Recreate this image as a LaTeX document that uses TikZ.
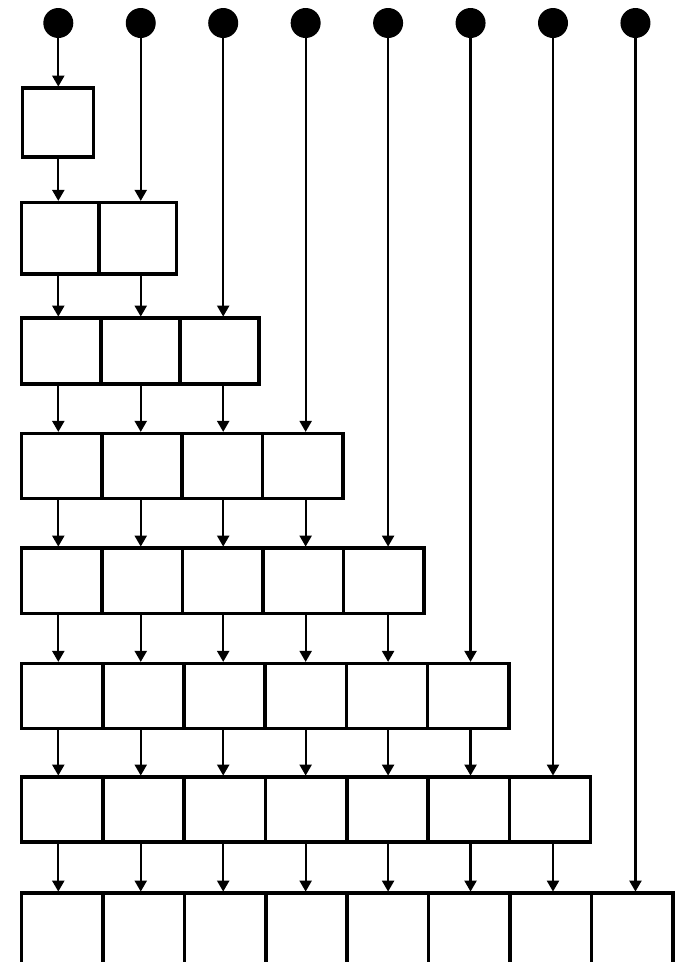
\documentclass[tikz,border=0pt]{standalone}
\usetikzlibrary{arrows.meta}
\begin{document}
\begin{tikzpicture}[x=1pt,y=-1pt,
  cell/.style={draw=black, line width=3.6pt, rectangle, inner sep=0pt, outer sep=0pt, anchor=north west, fill=white},
  src/.style={circle, fill=black, draw=none, minimum size=30pt, inner sep=0pt, outer sep=0pt},
  arr/.style={draw=black, line width=2.2pt, shorten >=1.6pt, -{Triangle[width=12pt,length=11pt]}}]
\useasboundingbox (0,0) rectangle (680,962);
\clip (0,0) rectangle (680,962);
\foreach \k in {1,...,8} {
  \node[src] (s\k) at ({58.3+82.45*(\k-1)},23) {};
}
\foreach \r/\l/\t/\h/\w in {1/22.5/88.2/68.6/71,
                            2/21.5/202.5/71.3/77.4,
                            3/21.5/318.2/66/79.2,
                            4/21.5/433.5/65/80.3,
                            5/21.5/548.2/65.3/80.5,
                            6/21.5/663.5/65/81.2,
                            7/21.5/777.2/64.6/81.3,
                            8/21.5/893.2/90/81.4} {
  \foreach \k in {1,...,\r} {
    \node[cell, minimum width=\w pt, minimum height=\h pt] (c\r-\k) at ({\l+\w*(\k-1)},\t) {};
  }
}
\foreach \k in {1,...,8} {
  \draw[arr] (s\k) -- (c\k-\k.north -| s\k);
}
\foreach \r [evaluate=\r as \rr using int(\r+1)] in {1,...,7} {
  \foreach \k in {1,...,\r} {
    \draw[arr] (c\r-\k.south -| s\k) -- (c\rr-\k.north -| s\k);
  }
}
\end{tikzpicture}
\end{document}
